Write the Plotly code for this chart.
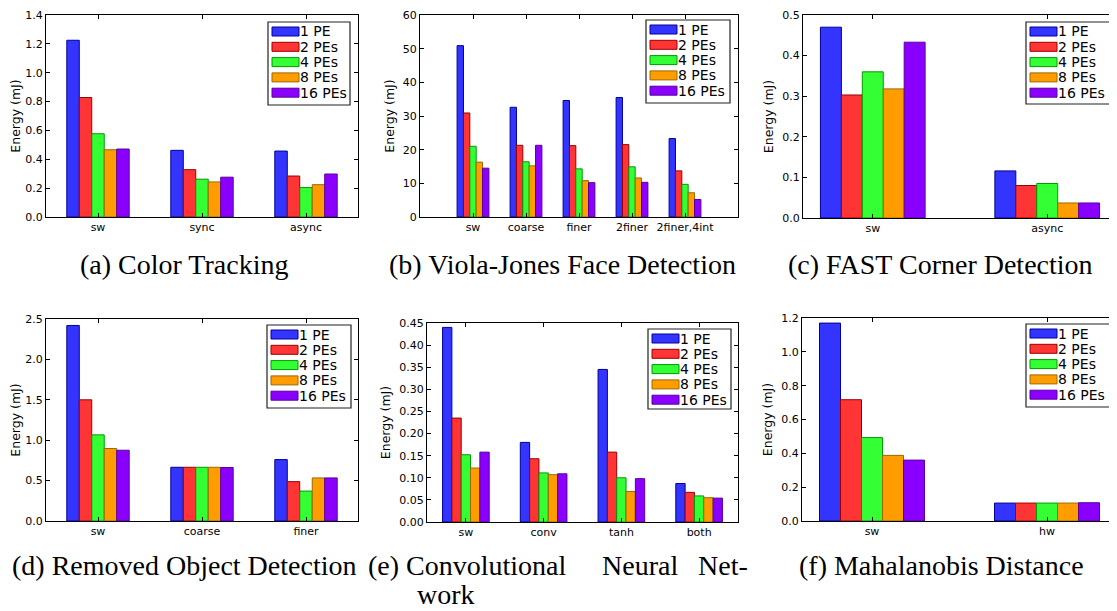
import plotly.graph_objects as go

# The page body has an 8px default margin, so the figure is 8px smaller
# and all pixel positions below (measured on the 1117x611 view) are shifted by 8.
OFF = 8
W, H = 1117 - OFF, 611 - OFF

series_names = ["1 PE", "2 PEs", "4 PEs", "8 PEs", "16 PEs"]
fill_colors = ["#3434ff", "#ff3434", "#34ff34", "#ff9d00", "#8a00ff"]
edge_colors = ["#00009a", "#9a0000", "#009a00", "#9a6a00", "#5a009a"]

# (a) Color Tracking
ct_cats = ["sw", "sync", "async"]
ct_vals = [
    [1.225, 0.462, 0.457],
    [0.828, 0.328, 0.284],
    [0.577, 0.262, 0.204],
    [0.466, 0.243, 0.224],
    [0.471, 0.276, 0.298],
]

# (b) Viola-Jones Face Detection
vj_cats = ["sw", "coarse", "finer", "2finer", "2finer,4int"]
vj_vals = [
    [50.9, 32.6, 34.6, 35.5, 23.3],
    [30.9, 21.3, 21.2, 21.5, 13.7],
    [21.0, 16.4, 14.3, 14.9, 9.7],
    [16.3, 15.2, 10.8, 11.6, 7.2],
    [14.5, 21.3, 10.2, 10.3, 5.2],
]

# (c) FAST Corner Detection
fc_cats = ["sw", "async"]
fc_vals = [
    [0.470, 0.116],
    [0.303, 0.080],
    [0.360, 0.085],
    [0.318, 0.037],
    [0.433, 0.037],
]

# (d) Removed Object Detection
ro_cats = ["sw", "coarse", "finer"]
ro_vals = [
    [2.42, 0.665, 0.760],
    [1.50, 0.665, 0.487],
    [1.066, 0.665, 0.370],
    [0.897, 0.665, 0.533],
    [0.876, 0.662, 0.533],
]

# (e) Convolutional Neural Network
cnn_cats = ["sw", "conv", "tanh", "both"]
cnn_vals = [
    [0.440, 0.180, 0.345, 0.087],
    [0.235, 0.143, 0.158, 0.067],
    [0.152, 0.111, 0.100, 0.059],
    [0.122, 0.107, 0.069, 0.055],
    [0.158, 0.109, 0.098, 0.054],
]

# (f) Mahalanobis Distance
md_cats = ["sw", "hw"]
md_vals = [
    [1.170, 0.106],
    [0.717, 0.106],
    [0.493, 0.106],
    [0.388, 0.106],
    [0.360, 0.108],
]

y_title = "Energy (mJ)"

# panel layout: cats, vals, y range, dtick, tickformat, plot box px (x0,y0,x1,y1), x range, legend box px
panels = [
    (ct_cats, ct_vals, [0, 1.4], 0.2, ".1f", (46, 15, 358, 217), [-0.5, 2.5], (268, 22, 350, 105)),
    (vj_cats, vj_vals, [0, 60], 10, "d", (420, 15, 738, 217), [-1, 5], (646, 20, 730, 103)),
    (fc_cats, fc_vals, [0, 0.5], 0.1, ".1f", (803, 15, 1117, 218), [-0.4, 1.4], (1026, 22, 1111, 104)),
    (ro_cats, ro_vals, [0, 2.5], 0.5, ".1f", (46, 319, 358, 521), [-0.5, 2.5], (267, 325, 351, 408)),
    (cnn_cats, cnn_vals, [0, 0.45], 0.05, ".2f", (427, 323, 738, 522), [-0.5, 3.5], (648, 329, 731, 409)),
    (md_cats, md_vals, [0, 1.2], 0.2, ".1f", (802, 318, 1117, 521), [-0.4, 1.4], (1026, 324, 1111, 407)),
]

tick_font = dict(family="DejaVu Sans", size=11, color="black")
fig = go.Figure()
shapes = []
annotations = []

def px(x):
    return min(max((x - OFF) / W, 0.0), 1.0)

def py(y):
    return min(max(1 - (y - OFF) / H, 0.0), 1.0)

for i, (cats, vals, yr, dt, fmt, box, xr, lg) in enumerate(panels):
    n = i + 1
    xa = "x" if n == 1 else f"x{n}"
    ya = "y" if n == 1 else f"y{n}"
    for s in range(len(series_names)):
        fig.add_trace(go.Bar(
            x=cats, y=vals[s], name=series_names[s], xaxis=xa, yaxis=ya,
            marker=dict(color=fill_colors[s], line=dict(color=edge_colors[s], width=1)),
            showlegend=False, offsetgroup=str(s),
        ))
    x0, y0, x1, y1 = box
    xkey = "xaxis" if n == 1 else f"xaxis{n}"
    ykey = "yaxis" if n == 1 else f"yaxis{n}"
    fig.update_layout(**{
        xkey: dict(
            domain=[px(x0), px(x1)], anchor=ya, type="category",
            range=xr, showline=True, linecolor="black", linewidth=1, mirror="ticks",
            ticks="inside", ticklen=4, tickcolor="black", tickfont=tick_font,
            showgrid=False, zeroline=False, automargin=False,
        ),
        ykey: dict(
            domain=[py(y1), py(y0)], anchor=xa, range=yr, dtick=dt, tick0=0,
            tickformat=fmt, showline=True, linecolor="black", linewidth=1,
            mirror="ticks", ticks="inside", ticklen=4, tickcolor="black",
            tickfont=tick_font, showgrid=False, zeroline=False, automargin=False,
            title=dict(text=y_title, font=dict(family="DejaVu Sans", size=12.5, color="black"), standoff=5),
        ),
    })
    # legend box
    lx0, ly0, lx1, ly1 = lg
    shapes.append(dict(type="rect", xref="paper", yref="paper",
                       x0=px(lx0), x1=px(lx1), y0=py(ly1), y1=py(ly0),
                       line=dict(color="#222222", width=1.2), fillcolor="white", layer="above"))
    for s, name in enumerate(series_names):
        cy = ly0 + 9.5 + s * 15.3
        shapes.append(dict(type="rect", xref="paper", yref="paper",
                           x0=px(lx0 + 4), x1=px(lx0 + 31), y0=py(cy + 4.5), y1=py(cy - 4.5),
                           fillcolor=fill_colors[s], line=dict(color=edge_colors[s], width=1),
                           layer="above"))
        annotations.append(dict(text=name, xref="paper", yref="paper",
                                x=px(lx0 + 30), y=py(cy), xanchor="left", yanchor="middle",
                                showarrow=False,
                                font=dict(family="DejaVu Sans", size=14, color="black")))

cap_font = dict(family="Liberation Serif", size=28, color="black")
captions = [
    ("(a) Color Tracking", 183.5, 264, "center"),
    ("(b) Viola-Jones Face Detection", 562, 264, "center"),
    ("(c) FAST Corner Detection", 940, 264, "center"),
    ("(d) Removed Object Detection", 183.5, 565, "center"),
    ("(e) Convolutional", 366, 565, "left"),
    ("Neural", 600, 565, "left"),
    ("Net-", 750, 565, "right"),
    ("work", 415, 594, "left"),
    ("(f) Mahalanobis Distance", 942, 565, "center"),
]
for text, cx, cy, anc in captions:
    annotations.append(dict(text=text, xref="paper", yref="paper", x=px(cx), y=py(cy),
                            xanchor=anc, yanchor="middle", showarrow=False, font=cap_font))

fig.update_layout(
    template="none",
    width=W, height=H, margin=dict(l=0, r=0, t=0, b=0, autoexpand=False),
    paper_bgcolor="white", plot_bgcolor="white",
    barmode="group", bargap=0.4, bargroupgap=0,
    shapes=shapes, annotations=annotations, showlegend=False,
)

fig.write_html("out.html")
